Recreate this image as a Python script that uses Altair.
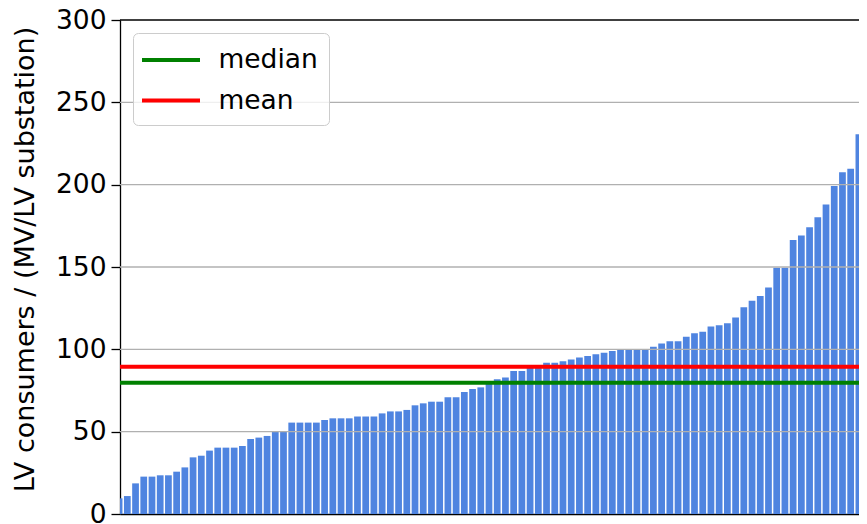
import altair as alt
import pandas as pd

# LV consumers per MV/LV substation, sorted ascending (bars)
consumers = [
    9.5, 10.9, 18.6, 22.7, 22.7, 23.5, 23.5, 25.7, 28.3, 34.4,
    35.4, 38.5, 40.3, 40.3, 40.3, 41.3, 45.5, 46.4, 47.4, 49.8,
    49.8, 55.5, 55.5, 55.5, 55.5, 57.1, 58.1, 58.1, 58.1, 59.2,
    59.2, 59.2, 61.1, 62.3, 62.3, 63.2, 66.0, 67.2, 68.2, 68.2,
    70.9, 70.9, 74.1, 75.9, 76.9, 79.3, 81.8, 82.9, 86.8, 86.8,
    89.0, 89.5, 91.9, 91.9, 92.7, 93.9, 95.0, 96.0, 97.0, 98.0,
    99.0, 100.0, 100.0, 100.0, 100.0, 101.6, 103.6, 104.9, 104.9, 107.7,
    109.7, 110.7, 113.8, 114.7, 115.8, 119.4, 125.5, 129.5, 132.4, 137.6,
    149.6, 149.6, 166.4, 169.2, 174.1, 180.2, 187.9, 199.2, 207.5, 209.7,
    230.6, 246.1,
]
bar_index = list(range(1, len(consumers) + 1))

stat_names = ["median", "mean"]
stat_values = [79.7, 89.4]
stat_colors = ["#008000", "#ff0000"]

y_ticks = [0, 50, 100, 150, 200, 250, 300]
grid_values = [50, 100, 150, 200, 250]
y_top = [300]

bars_df = pd.DataFrame({"idx": bar_index, "value": consumers})
stats_df = pd.DataFrame({"stat": stat_names, "value": stat_values})
grid_df = pd.DataFrame({"value": grid_values})
top_df = pd.DataFrame({"value": y_top})

FONT = "DejaVu Sans"
PLOT_W = 739
x_scale = alt.Scale(domain=[1.11, 1.11 + PLOT_W / 8.22], nice=False, zero=False)
y_scale = alt.Scale(domain=[0, 300], nice=False, zero=True)

y_axis = alt.Axis(title="LV consumers / (MV/LV substation)", values=y_ticks,
                  grid=False, domainColor="black", domainWidth=1.3,
                  tickColor="black", tickWidth=1.3, tickSize=9,
                  labelFont=FONT, labelFontSize=26.5, labelColor="black",
                  labelPadding=5,
                  titleFont=FONT, titleFontSize=27, titleFontWeight="normal",
                  titleColor="black", titleX=-95, titleY=239,
                  titleAlign="center", titleBaseline="middle")

bars = (
    alt.Chart(bars_df)
    .transform_calculate(lo="datum.idx - 0.41", hi="datum.idx + 0.41")
    .mark_bar(color="#4F84E0", clip=True)
    .encode(
        x=alt.X("lo:Q", scale=x_scale,
                axis=alt.Axis(title=None, labels=False, ticks=False, grid=False,
                              domainColor="black", domainWidth=1.3)),
        x2="hi:Q",
        y=alt.Y("value:Q", scale=y_scale, axis=y_axis),
        y2=alt.datum(0),
    )
)

grid = alt.Chart(grid_df).mark_rule(color="#b0b0b0", strokeWidth=1.3).encode(
    y=alt.Y("value:Q", scale=y_scale, axis=y_axis)
)

top = alt.Chart(top_df).mark_rule(color="black", strokeWidth=1.3).encode(
    y=alt.Y("value:Q", scale=y_scale, axis=y_axis)
)

stats = alt.Chart(stats_df).mark_rule(strokeWidth=4).encode(
    y=alt.Y("value:Q", scale=y_scale, axis=y_axis),
    color=alt.Color("stat:N",
                    scale=alt.Scale(domain=stat_names, range=stat_colors),
                    legend=alt.Legend(title=None, orient="none", legendX=13, legendY=13,
                                      symbolType="M-2,0H2", symbolSize=841,
                                      symbolStrokeWidth=4, symbolOffset=11,
                                      labelFont=FONT,
                                      labelFontSize=26.5, labelColor="black",
                                      labelOffset=31, padding=10.5, rowPadding=10.5,
                                      fillColor="rgba(255,255,255,0.8)",
                                      strokeColor="#cccccc", cornerRadius=5)),
)

chart = (
    alt.layer(bars, grid, stats, top)
    .properties(width=PLOT_W, height=494,
                autosize=alt.AutoSizeParams(type="none"),
                padding={"left": 112, "top": 12, "right": 0, "bottom": 14})
    .configure_view(stroke=None)
)

chart.save("out.html", embed_options={"renderer": "svg", "actions": False})
